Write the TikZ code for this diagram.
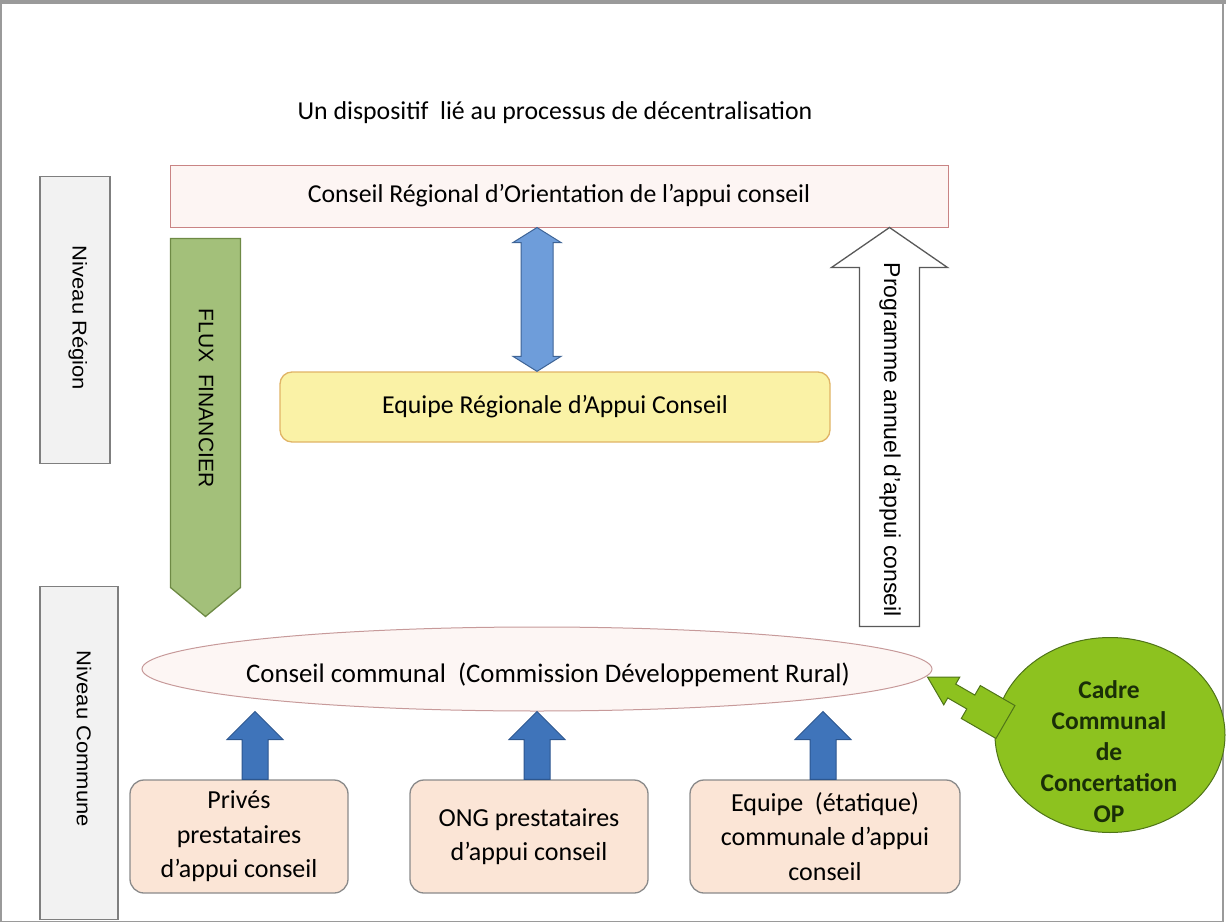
\documentclass[tikz,border=0pt]{standalone}
\usepackage{fontspec}
\setmainfont{Carlito}
\newfontfamily\arialf{Liberation Sans}
\newfontfamily\longf[FakeStretch=1.1]{Liberation Sans}
\usetikzlibrary{calc,shapes.geometric}
\definecolor{framec}{HTML}{9A9A9A}
\definecolor{craof}{HTML}{FDF5F3}
\definecolor{craob}{HTML}{C98484}
\definecolor{lvlf}{HTML}{F2F2F2}
\definecolor{lvlb}{HTML}{7F7F7F}
\definecolor{fluxf}{HTML}{A3C07A}
\definecolor{fluxb}{HTML}{6E8A45}
\definecolor{dblf}{HTML}{6E9DDA}
\definecolor{dblb}{HTML}{3E6496}
\definecolor{eraf}{HTML}{FAF2A6}
\definecolor{erab}{HTML}{E0B466}
\definecolor{ellf}{HTML}{FDF6F4}
\definecolor{ellb}{HTML}{C79A9A}
\definecolor{boxf}{HTML}{FBE5D6}
\definecolor{boxb}{HTML}{8A8A8A}
\definecolor{upf}{HTML}{3F74BA}
\definecolor{upb}{HTML}{2C568F}
\definecolor{cccf}{HTML}{8DC21F}
\definecolor{cccb}{HTML}{4F7418}
\definecolor{ccct}{HTML}{1A2E08}
\begin{document}
\begin{tikzpicture}[x=1pt,y=-1pt,
  txt/.style={font=\fontsize{25.8}{30}\selectfont, align=center, text=black},
  lvl/.style={draw=lvlb, fill=lvlf, line width=1.3pt, inner sep=0pt},
  lvltxt/.style={rotate=-90, font=\longf\fontsize{20}{24}\selectfont, inner sep=0pt},
  botbox/.style={draw=boxb, fill=boxf, line width=1.3pt, rounded corners=14pt, inner sep=0pt,
    minimum height=113pt, font=\fontsize{26}{34.5}\selectfont, align=center},
  uparr/.style={draw=upb, fill=upf, line width=1pt, line join=miter},
  fluxarr/.style={draw=fluxb, fill=fluxf, line width=1.3pt},
  progarr/.style={draw=black!65, fill=white, line width=1.3pt},
  dblarr/.style={draw=dblb, fill=dblf, line width=1pt},
  greenarr/.style={draw=cccb, fill=cccf, line width=1pt}
]
\useasboundingbox (0,0) rectangle (1226,923);
% frame
\draw[framec, line width=1.5pt] (1,1) rectangle (1223,921.5);
\draw[framec, line width=5pt] (0,2) -- (1226,2);

% title
\node[txt] (title) at (555,113) {Un dispositif\ \ lié au processus de décentralisation};

% top box
\node[txt, draw=craob, fill=craof, line width=1pt, minimum width=778pt, minimum height=62pt, inner sep=0pt]
  (crao) at (559,196) {Conseil Régional d’Orientation de l’appui conseil};

% level boxes
\node[lvl, minimum width=70pt, minimum height=287pt] (nreg) at (75,320) {};
\node[lvltxt] (nregt) at (78,318) {Niveau Région};
\node[lvl, minimum width=78pt, minimum height=333pt] (ncom) at (79,753) {};
\node[lvltxt] (ncomt) at (84,739) {Niveau Commune};

% regional team
\node[txt, draw=erab, fill=eraf, line width=1.3pt, rounded corners=12pt, minimum width=550pt,
  minimum height=70pt, inner sep=0pt] (era) at (555,407) {Equipe Régionale d’Appui Conseil};

% commune council ellipse
\node[ellipse, draw=ellb, fill=ellf, line width=1pt, minimum width=790pt, minimum height=84pt, inner sep=0pt]
  (ell) at (537,669) {};
\node[txt, font=\fontsize{26.8}{30}\selectfont] (elltxt) at (548,675) {Conseil communal\ \ (Commission Développement Rural)};

% double arrow between regional council and regional team
\coordinate (dx) at (537,0);
\draw[dblarr] (dx |- crao.south) coordinate (dtop) -- ++(24,15) -- ++(-8,0)
  -- ($(dx |- era.north)+(16,-15)$) -- ++(8,0) -- (dx |- era.north) -- ++(-24,-15) -- ++(8,0)
  -- ($(dtop)+(-16,15)$) -- ++(-8,0) -- cycle;

% FLUX FINANCIER arrow
\coordinate (fx) at (205.5,0);
\draw[fluxarr] ($(fx |- crao.south)+(-35,11)$) coordinate (fa) -- ++(70,0) -- ++(0,349)
  -- ($(fx |- ell.north)+(0,-10)$) -- ($(fa)+(0,349)$) -- cycle;
\node[rotate=-90, font=\arialf\fontsize{21}{24}\selectfont] (flux) at (206,398) {FLUX\ \ FINANCIER};

% Programme arrow
\coordinate (px) at (889.5,0);
\draw[progarr] (px |- crao.south) coordinate (ptip) -- ++(58,40) -- ++(-28,0) -- ($(px |- ell.north)+(30,0)$)
  -- ++(-60,0) -- ($(ptip)+(-30,40)$) -- ++(-28,0) -- cycle;
\node[rotate=-90, font=\arialf\fontsize{23}{26}\selectfont] (prog) at (890,440) {Programme annuel d’appui conseil};

% bottom boxes
\node[botbox, minimum width=218pt] (priv) at (239,836.5) {Privés\\prestataires\\d’appui conseil};
\node[botbox, minimum width=238pt] (ong) at (529,836.5) {ONG prestataires\\d’appui conseil};
\node[botbox, minimum width=270pt] (etat) at (825,836.5) {Equipe\ \ (étatique)\\communale d’appui\\conseil};

% blue up arrows
\foreach \b/\ax in {priv/255, ong/537, etat/823}{
  \coordinate (a-\b) at (\ax,0);
  \draw[uparr] (a-\b |- ell.south) coordinate (t-\b) -- ++(28,28) -- ++(-15,0)
    -- ($(a-\b |- \b.north)+(13,0)$) -- ($(a-\b |- \b.north)+(-13,0)$)
    -- ($(t-\b)+(-13,28)$) -- ($(t-\b)+(-28,28)$) -- cycle;
}

% green circle
\node[ellipse, draw=cccb, fill=cccf, line width=1pt, minimum width=230pt, minimum height=195pt, inner sep=0pt]
  (ccc) at (1110,735) {};
\node[font=\bfseries\fontsize{25.5}{31}\selectfont, align=center, text=ccct] (ccctxt) at (1109,752)
  {Cadre\\Communal\\de\\Concertation\\OP};

% green callout arrow
\coordinate (gtip) at ($(ell.east)+(-5,8)$);
\begin{scope}[shift={(gtip)}, rotate=-30]
\draw[greenarr] (0,0) -- (28,-16) -- (28,-8) -- (50,-8) -- (50,-19) -- (90,-19)
  -- (90,19) -- (50,19) -- (50,8) -- (28,8) -- (28,16) -- cycle;
\end{scope}
\end{tikzpicture}
\end{document}
